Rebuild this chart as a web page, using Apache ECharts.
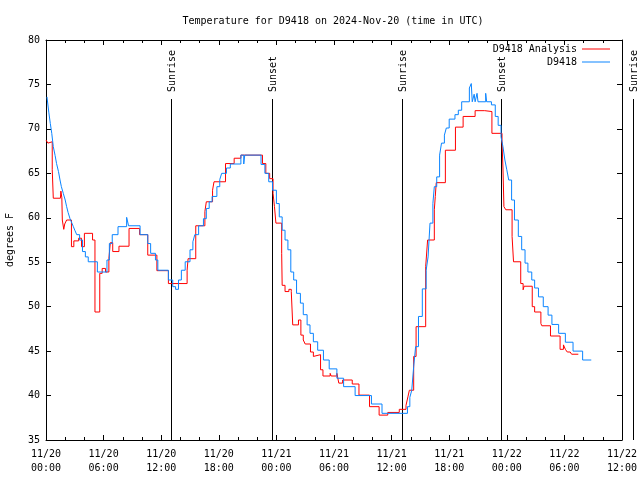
<!DOCTYPE html>
<html>
<head>
<meta charset="utf-8">
<script src="https://cdn.jsdelivr.net/npm/echarts@6/dist/echarts.min.js"></script>
<style>html,body{margin:0;padding:0;background:#fff}#c{width:640px;height:480px}</style>
</head>
<body>
<div id="c"></div>
<script>
// Hours since 2024-11-20 00:00 UTC
var obsHours = [0.1,0.3,0.45,0.6,0.76,0.95,1.1,1.3,1.46,1.6,1.8,2.0,2.15,2.3,2.5,2.7,2.85,3.0,3.2,3.5,3.8,4.1,4.4,5.35,6.35,6.6,6.9,7.5,8.4,8.6,9.8,10.6,10.9,11.4,11.65,12.75,13.2,13.5,13.8,14.1,14.5,15.0,15.3,15.5,15.9,16.4,16.7,17.0,17.3,17.8,18.1,18.3,18.8,19.2,20.3,20.6,20.7,22.4,22.8,23.2,23.6,24.0,24.3,24.6,24.9,25.2,25.5,25.8,26.1,26.5,26.8,27.2,27.5,27.85,28.3,28.9,29.5,30.3,31.0,32.2,33.9,35.0,37.65,37.9,38.1,38.3,38.5,38.8,39.2,39.6,39.8,40.0,40.3,40.45,40.7,41.0,41.2,41.5,41.7,42.0,42.6,42.95,43.3,44.1,44.3,44.4,44.6,44.7,44.9,45.0,45.8,45.9,46.4,46.8,47.1,47.4,47.6,47.8,48.0,48.2,48.5,48.8,49.2,49.55,49.9,50.2,50.6,50.9,51.3,51.8,52.3,52.7,53.4,54.1,54.9,55.9,56.8];
var obsTemps = [73.6,71.8,70.6,69.5,68.0,67.0,66.1,65.2,64.25,63.5,62.75,62.0,61.25,60.6,59.9,59.4,59.0,58.6,58.1,57.5,56.2,55.6,55.05,53.9,55.25,57.1,58.1,59.0,60.05,59.1,58.1,57.1,56.0,55.25,54.1,53.0,52.25,51.95,53.0,54.1,55.05,56.4,57.3,58.1,59.1,59.9,61.05,61.8,62.4,63.5,64.3,65.0,65.6,66.05,67.05,66.05,67.05,66.0,65.0,64.05,63.1,61.6,60.1,58.6,57.5,56.4,53.9,53.0,51.5,50.4,49.1,47.95,47.0,46.05,45.1,44.0,43.0,41.95,41.0,40.0,39.05,38.0,38.75,39.8,40.6,43.25,45.5,48.9,52.0,54.1,55.6,59.4,61.6,63.5,64.6,67.05,68.4,69.3,70.1,71.1,71.6,72.1,73.05,74.6,75.1,73.05,73.9,73.05,74.0,73.05,74.0,73.05,72.7,71.4,70.4,69.1,68.0,66.5,65.4,64.25,62.0,59.75,57.9,56.4,54.9,53.9,53.0,52.1,51.1,50.0,49.05,48.0,47.0,46.0,45.0,44.0,44.0];

var anaHours = [0.0,0.2,0.4,0.65,0.76,1.5,1.55,1.65,1.7,1.85,1.95,2.15,2.65,2.9,3.4,3.7,4.0,4.85,5.1,5.6,5.85,6.2,6.55,6.7,6.95,7.6,8.65,9.75,10.6,11.55,12.75,14.7,14.8,15.6,16.55,16.7,17.35,17.5,18.7,19.6,20.3,22.55,22.9,23.3,23.65,23.8,23.95,24.55,24.6,24.9,25.3,25.55,25.7,26.3,26.55,26.8,27.0,27.55,27.85,28.0,28.6,28.85,29.6,29.7,30.3,30.5,30.9,31.9,32.6,33.7,34.7,35.6,36.8,37.5,37.7,37.85,38.3,38.55,39.55,39.75,40.45,40.55,40.65,41.6,42.65,43.45,44.7,45.7,46.45,47.5,47.6,47.7,47.9,48.55,48.7,49.45,49.7,49.8,50.65,50.9,51.55,51.65,52.55,53.55,53.9,54.1,54.3,54.6,54.75,55.45];
var anaTemps = [68.75,68.4,68.55,65.4,62.2,62.25,63.0,62.25,59.75,58.7,59.3,59.75,56.75,57.4,57.7,56.75,58.25,57.5,49.4,53.75,54.3,53.9,55.4,57.2,56.2,56.8,58.8,58.1,55.8,54.05,52.6,54.1,55.4,59.1,60.7,61.8,63.1,64.05,66.1,66.7,67.05,66.1,65.0,64.4,62.75,61.25,59.4,56.0,52.4,51.7,51.95,51.7,47.95,48.5,46.8,46.25,45.8,44.9,44.4,44.6,42.9,42.2,42.5,42.2,42.5,41.4,41.75,41.3,40.05,38.75,37.8,38.1,38.45,38.9,39.85,40.6,44.4,47.75,54.5,57.5,60.9,62.4,63.95,67.6,70.2,71.4,72.05,71.95,69.5,68.55,65.6,61.25,60.9,57.9,55.05,52.6,51.9,52.3,50.0,49.4,48.1,47.85,46.7,45.2,45.7,45.2,44.9,45.1,44.65,44.65];

var xTickLabels = ['11/20\n00:00','11/20\n06:00','11/20\n12:00','11/20\n18:00','11/21\n00:00','11/21\n06:00','11/21\n12:00','11/21\n18:00','11/22\n00:00','11/22\n06:00','11/22\n12:00'];
var sunHours = [13.05, 23.5, 37.1, 47.42, 61.1];
var sunLabels = ['Sunrise','Sunset','Sunrise','Sunset','Sunrise'];
var sunLineTop = 73.36;

var FONT = '"DejaVu Sans Mono", "Liberation Mono", monospace';

function pairs(xs, ys){ var o=[]; for (var i=0;i<xs.length;i++) o.push([xs[i], ys[i]]); return o; }

var chart = echarts.init(document.getElementById('c'), null, {renderer:'canvas'});

function axisCommon(){
  return {
    axisLine:{show:true, onZero:false, lineStyle:{color:'#000', width:1}},
    axisTick:{show:true, inside:true, length:5, lineStyle:{color:'#000'}},
    splitLine:{show:false}
  };
}

var xBottom = Object.assign(axisCommon(), {
  type:'value', position:'bottom', min:0, max:60, interval:6,
  minorTick:{show:true, splitNumber:3, length:3, lineStyle:{color:'#000'}},
  axisLabel:{show:true, margin:7, color:'#000', fontFamily:FONT, fontSize:10, lineHeight:14,
    formatter:function(v){ var i=Math.round(v/6); return xTickLabels[i]||''; }}
});
var xTop = Object.assign(axisCommon(), {
  type:'value', position:'top', min:0, max:60, interval:6,
  minorTick:{show:true, splitNumber:3, length:3, lineStyle:{color:'#000'}},
  axisLabel:{show:false}
});
var yLeft = Object.assign(axisCommon(), {
  type:'value', position:'left', min:35, max:80, interval:5,
  axisLabel:{show:true, margin:6, color:'#000', fontFamily:FONT, fontSize:10},
  name:'degrees F', nameLocation:'middle', nameRotate:90, nameGap:31,
  nameTextStyle:{color:'#000', fontFamily:FONT, fontSize:10}
});
var yRight = Object.assign(axisCommon(), {
  type:'value', position:'right', min:35, max:80, interval:5,
  axisLabel:{show:false}
});

var legendCommon = {right:30, align:'right', icon:'rect', itemWidth:28, itemHeight:1, itemGap:8, padding:0,
  textStyle:{fontFamily:FONT, fontSize:10, color:'#000'}};

var option = {
  backgroundColor:'#fff',
  animation:false,
  title:{
    text:'Temperature for D9418 on 2024-Nov-20 (time in UTC)',
    left:333, top:16, textAlign:'center', padding:0,
    textStyle:{fontFamily:FONT, fontSize:10, fontWeight:'normal', color:'#000'}
  },
  grid:{left:46, right:18, top:40, bottom:40, containLabel:false, outerBoundsMode:'none'},
  legend:[
    Object.assign({data:['D9418 Analysis'], top:44}, legendCommon),
    Object.assign({data:['D9418'], top:57}, legendCommon)
  ],
  xAxis:[xBottom, xTop],
  yAxis:[yLeft, yRight],
  series:[
    {name:'D9418 Analysis', type:'line', step:'end', symbol:'none', xAxisIndex:0, yAxisIndex:0,
     data:pairs(anaHours, anaTemps), itemStyle:{color:'#ff0000'}, lineStyle:{color:'#ff0000', width:1}},
    {name:'D9418', type:'line', step:'end', symbol:'none', xAxisIndex:0, yAxisIndex:0,
     data:pairs(obsHours, obsTemps), itemStyle:{color:'#0a84ff'}, lineStyle:{color:'#0a84ff', width:1}},
    {name:'sun', type:'custom', xAxisIndex:0, yAxisIndex:0, clip:false, silent:true,
     data:sunHours.map(function(h){return [h];}),
     renderItem:function(params, api){
       var h = api.value(0);
       var p0 = api.coord([h, 35]);
       var p1 = api.coord([h, sunLineTop]);
       var x = Math.round(p0[0]) + 0.5;
       return {type:'group', children:[
         {type:'line', shape:{x1:x, y1:p0[1], x2:x, y2:p1[1]}, style:{stroke:'#000', lineWidth:1}},
         {type:'text', x:x+1, y:p1[1]-7, rotation:Math.PI/2,
          style:{text:sunLabels[params.dataIndex], fontFamily:'DejaVu Sans Mono', fontSize:10, fill:'#000', align:'left', verticalAlign:'middle'}}
       ]};
     }}
  ]
};
chart.setOption(option);
</script>
</body>
</html>
